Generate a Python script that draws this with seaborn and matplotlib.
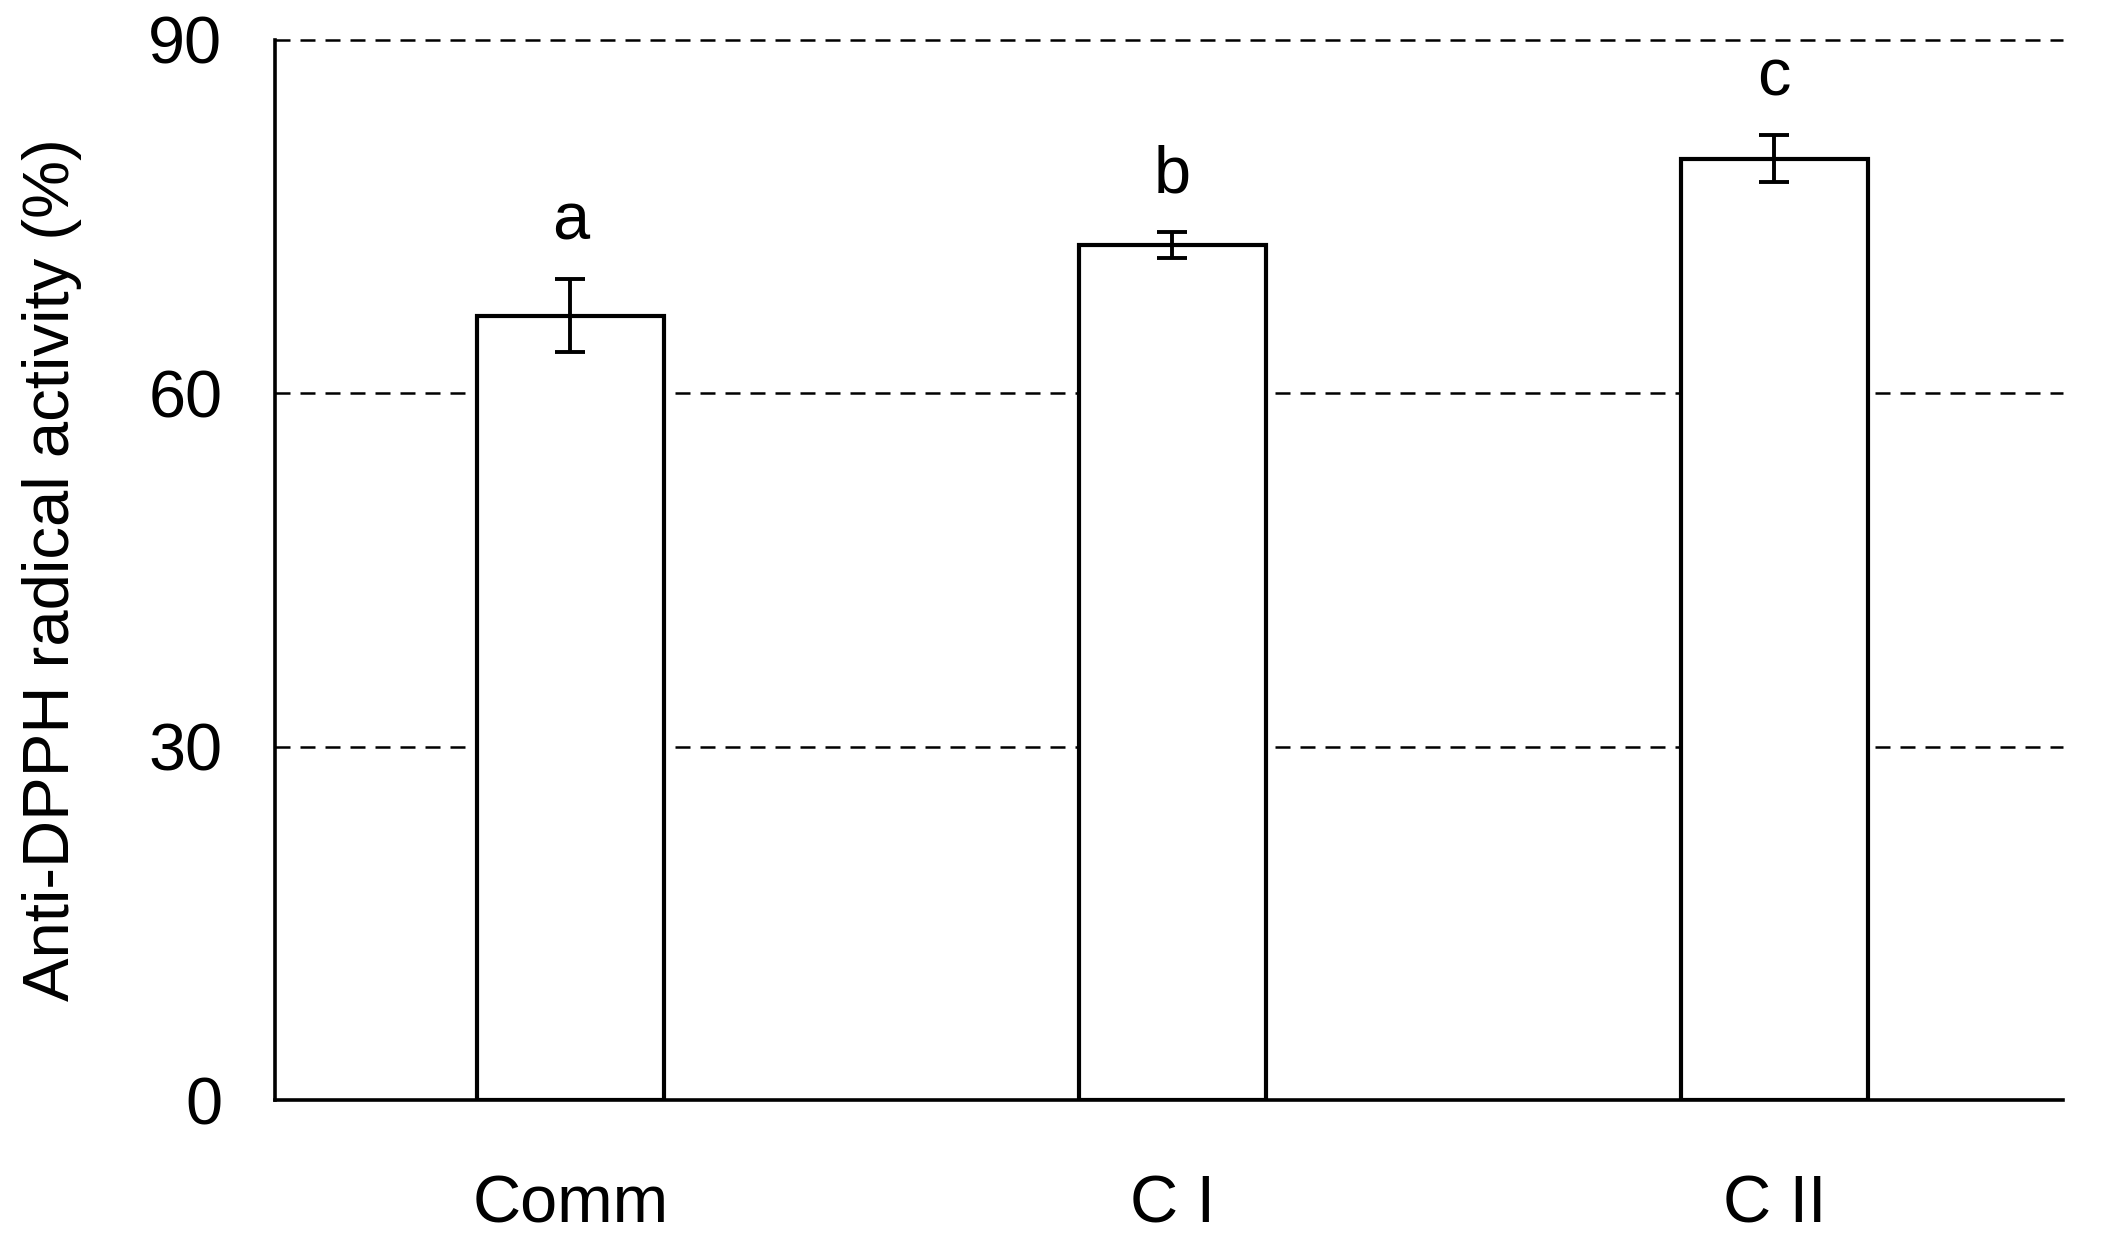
import matplotlib
matplotlib.use("Agg")
import matplotlib.pyplot as plt
import seaborn as sns
import pandas as pd

categories = ["Comm", "C I", "C II"]
means = [66.6, 72.6, 79.9]
errors = [3.1, 1.1, 2.0]
letters = ["a", "b", "c"]
yticks = [0, 30, 60, 90]

sns.set_theme(style="white")
plt.rcParams['font.family'] = ['Liberation Sans', 'DejaVu Sans']

df = pd.DataFrame({"cat": categories, "val": means})

fig = plt.figure(figsize=(21.01, 12.42), dpi=100)
ax = fig.add_axes([0.131, 0.114, 0.851, 0.854])

for y in yticks[1:]:
    ax.axhline(y, color="black", lw=1.8, linestyle=(0, (6, 4)), zorder=0, clip_on=False)

sns.barplot(data=df, x="cat", y="val", ax=ax, color="white", edgecolor="black",
            linewidth=3.0, width=0.31, errorbar=None, zorder=2)
for p in ax.patches:
    p.set_facecolor("white")
    p.set_zorder(2)

xs = list(range(len(categories)))
ax.errorbar(xs, means, yerr=errors, fmt="none", ecolor="black", elinewidth=2.8,
            capsize=11, capthick=2.8, zorder=3)

for x, m, e, t in zip(xs, means, errors, letters):
    ax.text(x, m + e + 4.8, t, ha="center", va="center", fontsize=48, color="black")

ax.set_xlim(-0.49, 2.48)
ax.set_ylim(0, 90)
ax.set_yticks(yticks)
ax.set_yticklabels([str(v) for v in yticks], fontsize=48, color="black")
ax.set_xticks(xs)
ax.set_xticklabels(categories, fontsize=48, color="black")
ax.set_xlabel("")
ax.set_ylabel("Anti-DPPH radical activity (%)", fontsize=47, labelpad=48, color="black")

for s in ["top", "right"]:
    ax.spines[s].set_visible(False)
for s in ["left", "bottom"]:
    ax.spines[s].set_color("black")
    ax.spines[s].set_linewidth(2.6)
ax.tick_params(axis="y", length=0, pad=38)
ax.tick_params(axis="x", length=0, pad=53)

fig.savefig("out.png", dpi=100, facecolor="white")
